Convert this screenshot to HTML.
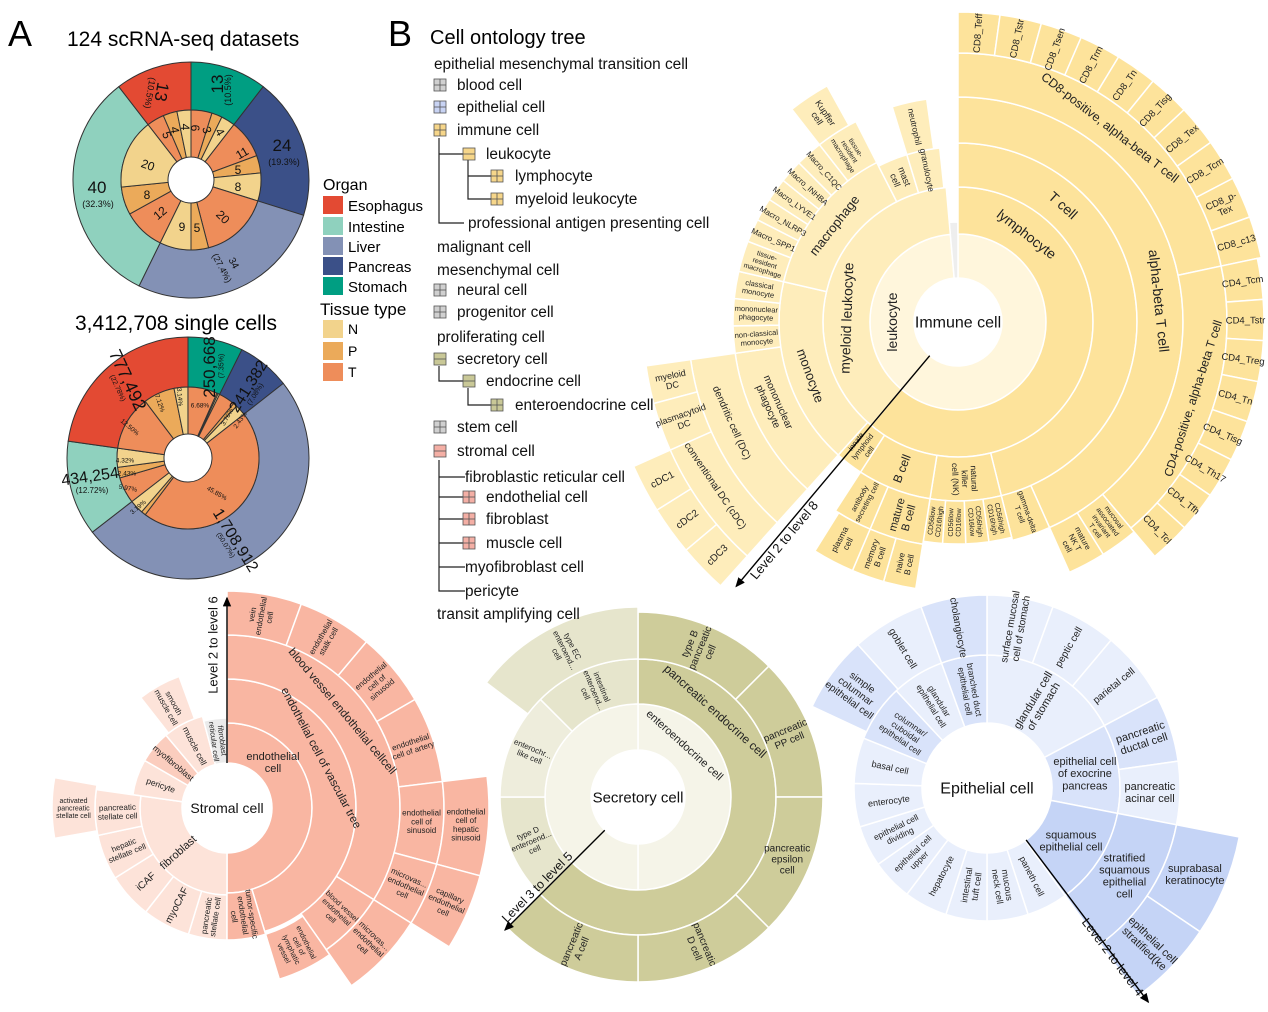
<!DOCTYPE html>
<html><head><meta charset="utf-8"><style>
html,body{margin:0;padding:0;background:#fff;}
svg{display:block;font-family:"Liberation Sans",Arial,sans-serif;}
</style></head><body>
<svg id="s" width="1268" height="1012" viewBox="0 0 1268 1012" xmlns="http://www.w3.org/2000/svg">
<g id="g"></g>
<defs><marker id="ah" markerWidth="8" markerHeight="8" refX="6" refY="3" orient="auto"><path d="M0,0 L7,3 L0,6 z" fill="#000"/></marker></defs>
<text x="8" y="46" font-size="36">A</text>
<text x="67" y="46" font-size="21">124 scRNA-seq datasets</text>
<text x="75" y="330" font-size="21">3,412,708 single cells</text>
<text x="388" y="46" font-size="36">B</text>
<text x="430" y="44" font-size="20">Cell ontology tree</text>
<text x="323" y="190" font-size="16">Organ</text>
<rect x="323" y="196" width="20" height="18" fill="#E34A33"/><text x="348" y="211" font-size="15">Esophagus</text>
<rect x="323" y="217" width="20" height="18" fill="#8FD1BE"/><text x="348" y="232" font-size="15">Intestine</text>
<rect x="323" y="237" width="20" height="18" fill="#8391B5"/><text x="348" y="252" font-size="15">Liver</text>
<rect x="323" y="257" width="20" height="18" fill="#3B5088"/><text x="348" y="272" font-size="15">Pancreas</text>
<rect x="323" y="277" width="20" height="18" fill="#009E82"/><text x="348" y="292" font-size="15">Stomach</text>
<text x="320" y="315" font-size="17">Tissue type</text>
<rect x="323" y="320" width="20" height="18" fill="#F2D38C"/><text x="348" y="334" font-size="14">N</text>
<rect x="323" y="342" width="20" height="18" fill="#EBAA5A"/><text x="348" y="356" font-size="14">P</text>
<rect x="323" y="363" width="20" height="18" fill="#EE8D5A"/><text x="348" y="377" font-size="14">T</text>
<g font-size="15.4" fill="#111">
<text x="434" y="69">epithelial mesenchymal transition cell</text>
<text x="457" y="90">blood cell</text>
<text x="457" y="112">epithelial cell</text>
<text x="457" y="135">immune cell</text>
<text x="486" y="159">leukocyte</text>
<text x="515" y="181">lymphocyte</text>
<text x="515" y="204">myeloid leukocyte</text>
<text x="468" y="228">professional antigen presenting cell</text>
<text x="437" y="252">malignant cell</text>
<text x="437" y="275">mesenchymal cell</text>
<text x="457" y="295">neural cell</text>
<text x="457" y="317">progenitor cell</text>
<text x="437" y="342">proliferating cell</text>
<text x="457" y="364">secretory cell</text>
<text x="486" y="386">endocrine cell</text>
<text x="515" y="410">enteroendocrine cell</text>
<text x="457" y="432">stem cell</text>
<text x="457" y="456">stromal cell</text>
<text x="465" y="482">fibroblastic reticular cell</text>
<text x="486" y="502">endothelial cell</text>
<text x="486" y="524">fibroblast</text>
<text x="486" y="548">muscle cell</text>
<text x="465" y="572">myofibroblast cell</text>
<text x="465" y="596">pericyte</text>
<text x="437" y="619">transit amplifying cell</text>
</g>
<g stroke="#222" stroke-width="1.2" fill="none">
<path d="M439,138 V223 H464"/><path d="M439,154 H463"/>
<path d="M468,160 V199 H491"/><path d="M468,176 H491"/>
<path d="M439,366 V381 H463"/><path d="M468,388 V405 H491"/>
<path d="M439,460 V591 H465"/><path d="M439,477 H465"/><path d="M439,497 H463"/><path d="M439,519 H463"/><path d="M439,543 H463"/><path d="M439,567 H465"/>
</g>
<g id="icons"></g>
</svg>
<script>
var NS="http://www.w3.org/2000/svg",G=document.getElementById('g');
function el(t,a,p){var e=document.createElementNS(NS,t);for(var k in a)e.setAttribute(k,a[k]);(p||G).appendChild(e);return e;}
function P(cx,cy,r,a){var t=(a-90)*Math.PI/180;return [cx+r*Math.cos(t),cy+r*Math.sin(t)];}
function seg(cx,cy,r0,r1,a0,a1,fill,st,sw){
 if(a1-a0>=359.99){seg(cx,cy,r0,r1,a0,a0+180,fill,st,sw);seg(cx,cy,r0,r1,a0+180,a1-0.001,fill,st,sw);return;}
 var L=(a1-a0)>180?1:0,p1=P(cx,cy,r1,a0),p2=P(cx,cy,r1,a1),p3=P(cx,cy,r0,a1),p4=P(cx,cy,r0,a0);
 var d="M"+p1+"A"+r1+","+r1+" 0 "+L+" 1 "+p2+"L"+p3+(r0>0?"A"+r0+","+r0+" 0 "+L+" 0 "+p4:"")+"Z";
 el('path',{d:d,fill:fill,stroke:st||'#fff','stroke-width':sw||1.5});}
function lab(cx,cy,r,a,txt,mode,fs,col){
 var p=P(cx,cy,r,a),rot=0;
 if(mode=='r'){rot=a-90;if(a>180)rot+=180;}else if(mode=='t'){rot=a;if(a>90&&a<270)rot+=180;}else if(typeof mode=='number')rot=mode;
 var t=el('text',{x:p[0],y:p[1],'font-size':fs||10,'text-anchor':'middle',fill:col||'#222',transform:'rotate('+rot+' '+p[0]+' '+p[1]+')'});
 var ls=txt.split('|'),n=ls.length;
 for(var i=0;i<n;i++){var s=el('tspan',{x:p[0],dy:(i==0?(-(n-1)/2*1.1+0.35):1.1)+'em'},t);s.textContent=ls[i];}}
function draw(cx,cy,list,dfs){list.forEach(function(s){seg(cx,cy,s[0],s[1],s[2],s[3],s[4]);});
 list.forEach(function(s){if(s[5]){var la=s[8]!=null?s[8]:(s[2]+s[3])/2;lab(cx,cy,(s[0]+s[1])/2,la,s[5],s[6]||'r',s[7]||dfs);}});}

function donut(cx,cy,R,r,h,outer,inner){var a=0;outer.forEach(function(o){seg(cx,cy,r,R,a,a+o[0],o[1],'#333',1);a+=o[0];});
 a=0;inner.forEach(function(o){seg(cx,cy,h,r,a,a+o[0],o[1],'#333',1);a+=o[0];});}
var N='#F2D38C',PP='#EBAA5A',T='#EE8D5A';
var t1=124;function d1(v){return v/t1*360;}
donut(191,180,118,70,23,[[d1(13),'#009E82'],[d1(24),'#3B5088'],[d1(34),'#8391B5'],[d1(40),'#8FD1BE'],[d1(13),'#E34A33']],
 [[d1(6),T],[d1(3),PP],[d1(4),N],[d1(11),T],[d1(5),PP],[d1(8),N],[d1(20),T],[d1(5),PP],[d1(9),N],[d1(12),T],[d1(8),PP],[d1(20),N],[d1(5),T],[d1(4),PP],[d1(4),N]]);
function d2(v){return v/100*360;}
donut(188,458,121,71,24,[[d2(7.35),'#009E82'],[d2(7.08),'#3B5088'],[d2(50.07),'#8391B5'],[d2(12.72),'#8FD1BE'],[d2(22.78),'#E34A33']],
 [[d2(6.68),T],[d2(0.3),PP],[d2(0.37),N],[d2(3.76),T],[d2(0.89),PP],[d2(2.43),N],[d2(45.85),T],[d2(1.03),PP],[d2(3.19),N],[d2(5.97),T],[d2(2.43),PP],[d2(4.32),N],[d2(12.5),T],[d2(7.12),PP],[d2(3.14),N]]);
function tx(x,y,s,fs,rot,col){var t=el('text',{x:x,y:y,'font-size':fs,'text-anchor':'middle',fill:col||'#111',transform:'rotate('+(rot||0)+' '+x+' '+y+')'});
 var ls=s.split('|');ls.forEach(function(l,i){var sp=el('tspan',{x:x,dy:(i==0?(-(ls.length-1)/2*1.1+0.35):1.1)+'em'},t);sp.textContent=l;});}
tx(162,92,'13',17,100);tx(150,93,'(10.5%)',9,100);
tx(217,84,'13',17,-90);tx(228,90,'(10.5%)',9,-90);
tx(282,145,'24',17,0);tx(284,162,'(19.3%)',9,0);
tx(97,187,'40',17,0);tx(98,204,'(32.3%)',9,0);
tx(234,263,'34',10,62);tx(222,268,'(27.4%)',9,62);
[[195,128,'6',90],[207,130,'3',75],[220,132,'4',60],[242,153,'11',-30],[238,170,'5',0],[238,187,'8',0],[223,217,'20',45],[197,228,'5',0],[182,227,'9',0],[160,213,'12',-40],[147,195,'8',0],[148,165,'20',20],[167,135,'5',70],[175,130,'4',80],[185,127,'4',90]].forEach(function(q){tx(q[0],q[1],q[2],12,q[3]);});
tx(128,380,'777,492',18,65);tx(118,388,'(22.78%)',7,65);
tx(209,367,'250,668',17,-90);tx(221,366,'(7.35%)',7,-90);
tx(248,386,'241,382',16,-58);tx(255,394,'(7.08%)',7,-58);
tx(90,476,'434,254',16,-8);tx(92,490,'(12.72%)',8,0);
tx(236,540,'1,708,912',16,58);tx(226,545,'(50.07%)',7,58);
[[130,427,'12.50%',40],[160,403,'7.12%',70],[180,397,'3.14%',85],[200,405,'6.68%',0],[227,417,'3.76%',-60],[240,420,'2.43%',-55],[217,493,'45.85%',30],[125,460,'4.32%',0],[127,473,'2.43%',0],[128,488,'5.97%',10],[138,507,'3.19%',-40]].forEach(function(q){tx(q[0],q[1],q[2],6.5,q[3]);});

var Y='#FDE39B',Lm='#FEEDBB',C='#FFF6DC',GR='#EEEEEE';
var im=[[44,88,0,355,C,'leukocyte','t',14,270],[44,100,355,360,GR],
[88,135,0,220,Y,'lymphocyte','t',14,38],[88,135,220,355,Lm,'myeloid leukocyte','t',14,272],
[135,179,0,166,Y,'T cell','t',14,42],[135,179,166,189,Y,'natural|killer|cell (NK)','r',8.5],[135,179,189,213,Y,'B cell','r',12],[135,179,213,222,Y,'innate|lymphoid|cell','r',7.5],
[179,225,0,156,Y,'alpha-beta T cell','t',14,84],[179,225,156,166,Y,'gamma-delta|T cell','r',7.5],
[179,222,166,172,Y,'CD56high|CD16high','r',7],[179,222,172,178,Y,'CD56high|CD16low','r',7],[179,222,178,184,Y,'CD56low|CD16low','r',7],[179,222,184,189,Y,'CD56low|CD16high','r',7],
[179,225,189,203,Y,'mature|B cell','r',11],[179,225,203,213,Y,'antibody|secreting cell','r',7.5],
[225,270,189,196,Y,'naive|B cell','r',8.5],[225,270,196,203,Y,'memory|B cell','r',8.5],[225,270,203,212,Y,'plasma|cell','r',8.5],
[225,269,0,78,Y,'CD8-positive, alpha-beta T cell','t',12.5,38],[225,269,78,140,Y,'CD4-positive, alpha-beta T cell','t',12,108],
[225,274,140,148,Y,'mucosal|associated|invariant|T cell','r',7],[225,274,148,156,Y,'mature|NK T|cell','r',8],
[135,179,222,283,Lm,'monocyte','t',13,250],[135,179,283,333,Lm,'macrophage','t',13,308],[135,175,333,343,Lm,'mast|cell','r',9],[135,175,343,354,Lm,'granulocyte','r',8.5],[175,225,343,352,Lm,'neutrophil','r',8.5],
[179,225,222,262,Lm,'mononuclear|phagocyte','t',10,246],[179,225,262,269,Lm,'non-classical|monocyte','r',7.5],[179,225,269,276,Lm,'mononuclear|phagocyte','r',7.5],[179,225,276,283,Lm,'classical|monocyte','r',7.5],
[179,225,283,291,Lm,'tissue-|resident|macrophage','r',7],[179,225,291,297,Lm,'Macro_SPP1','r',8],[179,225,297,303,Lm,'Macro_NLRP3','r',8],[179,225,303,309,Lm,'Macro_LYVE1','r',8],[179,225,309,315,Lm,'Macro_INHBA','r',8],[179,225,315,322,Lm,'Macro_C1QC','r',8],[179,225,322,333,Lm,'tissue-|resident|macrophage','r',7],
[225,270,322,331,Lm,'Kupffer|cell','r',9],
[225,270,222,262,Lm,'dendritic cell (DC)','t',10,246],[270,315,255,262,Lm,'myeloid|DC','r',9],[270,315,246,255,Lm,'plasmacytoid|DC','r',9],[270,315,222,246,Lm,'conventional DC (cDC)','t',10,236],
[315,355,238,246,Lm,'cDC1','r',10],[315,355,230,238,Lm,'cDC2','r',10],[315,355,222,230,Lm,'cDC3','r',10]];
['CD8_Teff','CD8_Tstr','CD8_Tsen','CD8_Trm','CD8_Tn','CD8_Tisg','CD8_Tex','CD8_Tcm','CD8_p-|Tex','CD8_c13'].forEach(function(n,i){im.push([269,310,i*7.8,(i+1)*7.8,Y,n,'r',9.5]);});
['CD4_Tcm','CD4_Tstr','CD4_Treg','CD4_Tn','CD4_Tisg','CD4_Th17','CD4_Tfh','CD4_Tcl'].forEach(function(n,i){im.push([269,306,78+i*7.75,78+(i+1)*7.75,Y,n,'r',9.5]);});
draw(958,322,im,9);
lab(958,322,0,0,'Immune cell','h',16,'#111');

var Ps='#F9B6A2',F='#FDE3D9',F2='#FBCDBE';
draw(227,808,[[45,85,0,180,Ps,'endothelial|cell','h',11,45],[45,87,180,278,F,'fibroblast','r',11,228],
[45,95,278,300,F,'pericyte','r',8.5],[45,95,300,320,F2,'myofibroblast','r',8.5],[45,95,320,345,F,'muscle cell','r',8.5],[95,140,322,340,F,'smooth|muscle cell','r',8],[45,90,345,360,'#EBEBEB','fibroblast|reticular cell','r',7.5],
[87,132,180,197,F,'pancreatic|stellate cell','r',8],[87,132,197,218,F,'myoCAF','r',10],[87,132,218,238,F,'iCAF','r',10],[87,132,238,258,F,'hepatic|stellate cell','r',8],[87,132,258,278,F,'pancreatic|stellate cell','r',8],[132,175,260,280,F,'activated|pancreatic|stellate cell','h',7],
[85,129,0,163,Ps,'endothelial cell of vascular tree','t',11.5,62],[85,132,163,180,Ps,'tumor-specific|endothelial|cell','r',8],
[129,173,0,122,Ps,'blood vessel endothelial cellcell','t',11.5,50],[129,173,122,145,Ps,'blood vessel|endothelial|cell','r',7.5],[132,179,145,163,Ps,'endothelial|cell of|lymphatic|vessel','r',7.5],
[173,217,0,20,Ps,'vein|endothelial|cell','r',8],[173,217,20,40,Ps,'endothelial|stalk cell','r',8],[173,217,40,60,Ps,'endothelial|cell of|sinusoid','r',8],[173,217,60,83,Ps,'endothelial|cell of artery','r',8],[173,217,83,105,Ps,'endothelial|cell of|sinusoid','h',8],[173,217,105,122,Ps,'microvas...|endothelial|cell','r',8],[173,217,122,145,Ps,'microvas...|endothelial|cell','r',8],
[217,262,83,105,Ps,'endothelial|cell of|hepatic|sinusoid','h',8],[217,262,105,122,Ps,'capillary|endothelial|cell','r',8]],8);
lab(227,808,0,0,'Stromal cell','h',14,'#111');

var E='#F5F4E8',O='#CECC9A',L1='#E6E5CC',L2='#EEEDDC';
draw(638,797,[[47,93,0,360,E,'enteroendocrine cell','t',11,42],[93,138,0,225,O,'pancreatic endocrine cell','t',12,42],
[93,138,225,270,L1,'type D|enteroend...|cell','r',8],[93,138,270,315,L2,'enterochr...|like cell','r',8],[93,138,315,360,L1,'intestinal|enteroend...|cell','r',8],
[138,185,0,45,O,'type B|pancreatic|cell','r',10],[138,185,45,90,O,'pancreatic|PP cell','r',10],[138,185,90,135,O,'pancreatic|epsilon|cell','h',10],[138,185,135,180,O,'pancreatic|D cell','r',10],[138,185,180,225,O,'pancreatic|A cell','r',10],
[138,190,307,360,L1,'type EC|enteroend...|cell','r',8]],9);
lab(638,797,0,0,'Secretory cell','h',15,'#111');

var B0='#E9EFFC',B1='#D9E3FA',B2='#C5D4F6';
draw(987,788,[[65,133,0,62,B0,'glandular cell|of stomach','r',11],[133,193,0,20,B0,'surface mucosal|cell of stomach','r',10],[133,193,20,40,B0,'peptic cell','r',10],[133,193,40,62,B0,'parietal cell','r',10],
[65,133,62,101,B1,'epithelial cell|of exocrine|pancreas','h',11],[133,193,62,82,B1,'pancreatic|ductal cell','r',11],[133,193,82,101,B0,'pancreatic|acinar cell','h',11],
[65,133,101,144,B2,'squamous|epithelial cell','h',11,122],[133,193,101,144,B2,'stratified|squamous|epithelial|cell','h',11],[193,257,101,124,B2,'suprabasal|keratinocyte','h',11],[193,257,124,144,B2,'epithelial cell|stratified(ke','r',11],
[65,133,144,162,B0,'paneth cell','r',9],[65,133,162,180,B0,'mucous|neck cell','r',9],[65,133,180,198,B0,'intestinal|tuft cell','r',9],[65,133,198,217,B0,'hepatocyte','r',9],[65,133,217,235,B0,'epithelial cell|upper','r',8.5],[65,133,235,253,B0,'epithelial cell|dividing','r',8.5],[65,133,253,272,B0,'enterocyte','r',9],[65,133,272,292,B0,'basal cell','r',9],[65,133,292,317,B1,'columnar/|cuboidal|epithelial cell','r',8.5],[65,133,317,340,B0,'glandular|epithelial cell','r',8.5],[65,133,340,360,B1,'branched duct|epithelial cell','r',8.5],
[133,193,295,318,B1,'simple|columnar|epithelial cell','r',10],[133,193,318,340,B0,'goblet cell','r',10],[133,193,340,360,B1,'cholangiocyte','r',10]],9);
lab(987,788,0,0,'Epithelial cell','h',16,'#111');

function arrow(x1,y1,x2,y2){el('line',{x1:x1,y1:y1,x2:x2,y2:y2,stroke:'#000','stroke-width':1.4,'marker-end':'url(#ah)'});}
var a=P(958,322,44,220),b=P(958,322,345,220);arrow(a[0],a[1],b[0],b[1]);tx(784,540,'Level 2 to level 8',13,-50);
arrow(227,763,227,598);tx(213,645,'Level 2 to level 6',13,-90);
a=P(638,797,47,225);b=P(638,797,188,225);arrow(a[0],a[1],b[0],b[1]);tx(537,887,'Level 3 to level 5',12.5,-45);
a=P(987,788,65,143);b=P(987,788,268,143);arrow(a[0],a[1],b[0],b[1]);tx(1113,957,'Level 2 to level 4',12.5,53);

var IC=document.getElementById('icons');
function icon(x,y,c,minus){el('rect',{x:x,y:y,width:12,height:12,fill:c,stroke:'#555','stroke-width':0.8},IC);
 el('line',{x1:x,y1:y+6,x2:x+12,y2:y+6,stroke:'#555','stroke-width':0.8},IC);
 if(!minus)el('line',{x1:x+6,y1:y,x2:x+6,y2:y+12,stroke:'#555','stroke-width':0.8},IC);}
icon(434,79,'#D0D0D0');icon(434,101,'#C8D3F3');icon(434,124,'#F6D68A');icon(463,148,'#F6D68A',1);icon(491,170,'#F6D68A');icon(491,193,'#F6D68A');
icon(434,284,'#D0D0D0');icon(434,306,'#D0D0D0');icon(434,353,'#C9C897',1);icon(463,375,'#C9C897',1);icon(491,399,'#C9C897');icon(434,421,'#D0D0D0');icon(434,445,'#F4AFA5',1);
icon(463,491,'#F4AFA5');icon(463,513,'#F4AFA5');icon(463,537,'#F4AFA5');
</script>
</body></html>
